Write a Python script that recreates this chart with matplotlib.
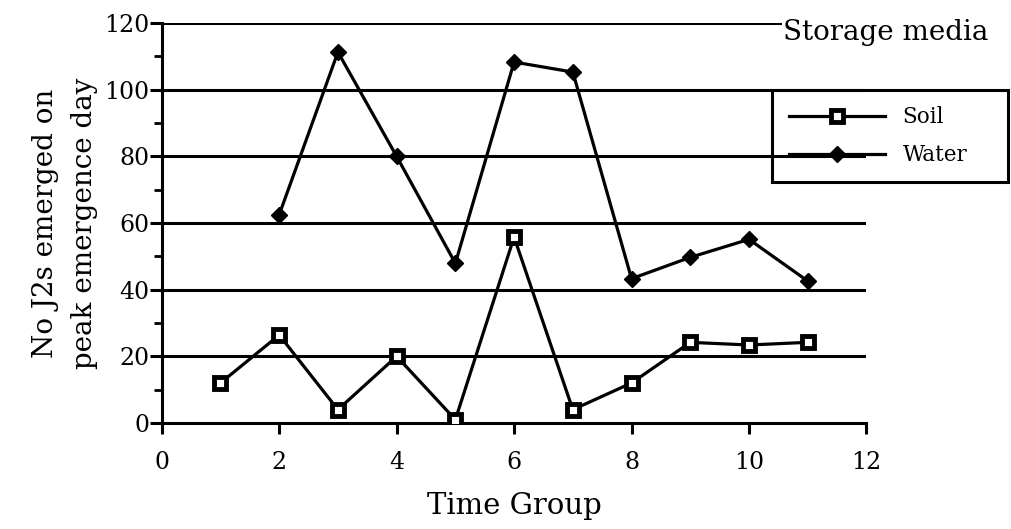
import matplotlib
matplotlib.use("Agg")
import matplotlib.pyplot as plt
from matplotlib.ticker import MultipleLocator

time_group = [1, 2, 3, 4, 5, 6, 7, 8, 9, 10, 11]
soil = [12, 26.4, 4, 20, 1, 55.8, 4, 12, 24.2, 23.4, 24.2]
water_x = [2, 3, 4, 5, 6, 7, 8, 9, 10, 11]
water = [62.5, 111.3, 80, 47.9, 108.3, 105.3, 43.3, 49.7, 55.1, 42.6]
xticks = [0, 2, 4, 6, 8, 10, 12]
yticks = [0, 20, 40, 60, 80, 100, 120]

plt.rcParams['font.family'] = ['DejaVu Serif']

fig = plt.figure(figsize=(10.11, 5.29), dpi=100)
ax = fig.add_axes([0.160, 0.2004, 0.697, 0.756])

for y in yticks[1:]:
    ax.axhline(y, color='black', lw=2.2, zorder=1)

ax.plot(time_group, soil, color='black', lw=2.3, marker='s', markersize=8,
        mfc='white', mec='black', mew=3.5, label='Soil', zorder=3)
ax.plot(water_x, water, color='black', lw=2.3, marker='D', markersize=8,
        mfc='black', mec='black', label='Water', zorder=3)

ax.set_xlim(0, 12)
ax.set_ylim(0, 120)
ax.set_xticks(xticks)
ax.set_yticks(yticks)
ax.yaxis.set_minor_locator(MultipleLocator(10))
for s in ['top', 'right']:
    ax.spines[s].set_visible(False)
for s in ['left', 'bottom']:
    ax.spines[s].set_linewidth(2.2)
ax.tick_params(axis='y', which='major', direction='out', length=9, width=2.2,
               labelsize=17, pad=0)
ax.tick_params(axis='y', which='minor', direction='out', length=6, width=2)
ax.tick_params(axis='x', which='major', direction='out', length=8, width=2.2,
               labelsize=17, pad=12)

ax.set_xlabel('Time Group', fontsize=21, labelpad=13)
ax.set_ylabel('No J2s emerged on\npeak emergence day', fontsize=20, labelpad=4,
              linespacing=1.6)

fig.text(0.876, 0.938, 'Storage media', fontsize=20, ha='center', va='center',
         bbox=dict(facecolor='white', edgecolor='none', pad=1))

leg = ax.legend(loc='upper left', bbox_to_anchor=(0.764, 0.656, 0.233, 0.174),
                bbox_transform=fig.transFigure, mode='expand', borderaxespad=0,
                fontsize=15.5, frameon=True, fancybox=False, handlelength=4.5,
                borderpad=0.75, labelspacing=0.75, handletextpad=0.8,
                framealpha=1)
leg.get_frame().set_edgecolor('black')
leg.get_frame().set_linewidth(2.2)
leg.get_frame().set_facecolor('none')

fig.savefig('out.png', dpi=100)
